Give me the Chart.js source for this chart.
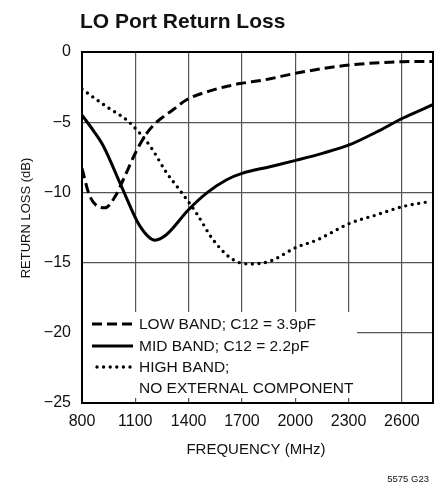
<!DOCTYPE html>
<html lang="en">
<head>
  <meta charset="UTF-8">
  <title>LO Port Return Loss</title>
  <script src="https://cdn.jsdelivr.net/npm/chart.js@4.4.1/dist/chart.umd.min.js"></script>
  <style>
    body {
      margin: 0;
      background: #fff;
      font-family: 'Liberation Sans', Arial, sans-serif;
      color: #111;
    }
    #wrap {
      position: relative;
      width: 436px;
      height: 485px;
    }
    #title {
      position: absolute;
      left: 80px;
      top: 10px;
      font-size: 21px;
      line-height: 21px;
      font-weight: bold;
      white-space: nowrap;
    }
    #note {
      position: absolute;
      right: 7px;
      top: 474px;
      font-size: 9.5px;
      line-height: 10px;
      white-space: nowrap;
    }
  </style>
</head>
<body>
  <div id="wrap">
    <canvas id="rl" width="436" height="485"></canvas>
    <div id="title">LO Port Return Loss</div>
    <div id="note">5575 G23</div>
  </div>

  <script>
    // values
    const xTicks = [800, 1100, 1400, 1700, 2000, 2300, 2600];
    const yTicks = [0, -5, -10, -15, -20, -25];

    const lowFreq = [800, 845, 929, 986, 1032, 1108, 1164, 1211, 1314, 1389, 1539, 1632, 1689, 1820, 2008, 2195, 2307, 2476, 2607, 2775];
    const lowLoss = [-8.3, -10.3, -11.1, -10.3, -9.1, -7.0, -5.8, -5.1, -4.1, -3.4, -2.7, -2.4, -2.25, -2.0, -1.5, -1.1, -0.93, -0.76, -0.69, -0.68];

    const midFreq = [800, 864, 920, 1023, 1126, 1211, 1276, 1398, 1501, 1614, 1700, 1857, 2008, 2157, 2307, 2457, 2607, 2775];
    const midLoss = [-4.5, -5.6, -6.7, -9.6, -12.4, -13.4, -13.0, -11.25, -10.05, -9.1, -8.65, -8.17, -7.7, -7.2, -6.6, -5.7, -4.7, -3.75];

    const highFreq = [800, 939, 1061, 1183, 1276, 1351, 1445, 1539, 1651, 1745, 1857, 2008, 2120, 2307, 2457, 2607, 2758];
    const highLoss = [-2.65, -3.9, -4.95, -6.7, -8.6, -9.85, -11.5, -13.4, -14.8, -15.1, -14.9, -13.9, -13.4, -12.2, -11.6, -11.0, -10.65];

    const seriesNames = ['LOW BAND; C12 = 3.9pF', 'MID BAND; C12 = 2.2pF', 'HIGH BAND;\nNO EXTERNAL COMPONENT'];

    const pts = (xs, ys) => xs.map((x, i) => ({ x: x, y: ys[i] }));
    const minus = v => String(v).replace('-', '\u2212');

    // legend box, axis titles and plot frame
    const decor = {
      id: 'decor',
      afterDatasetsDraw(chart) {
        const ctx = chart.ctx;
        const a = chart.chartArea;
        const sets = chart.data.datasets;
        ctx.save();

        // white legend panel hiding the grid
        ctx.fillStyle = '#fff';
        ctx.fillRect(a.left + 1, 312, 357 - a.left - 1, 86);

        const rows = [324, 346, 367];
        ctx.font = '15.5px "Liberation Sans", Arial, sans-serif';
        ctx.fillStyle = '#111';
        ctx.textBaseline = 'middle';
        ctx.textAlign = 'left';
        sets.forEach((ds, i) => {
          const y = rows[i];
          ctx.strokeStyle = '#000';
          ctx.lineWidth = ds.borderWidth;
          ctx.lineCap = ds.borderCapStyle || 'butt';
          ctx.setLineDash(ds.borderDash || []);
          ctx.beginPath();
          if (i === 2) {
            ctx.moveTo(97, y);
            ctx.lineTo(131, y);
          } else {
            ctx.moveTo(92, y);
            ctx.lineTo(133, y);
          }
          ctx.stroke();
          ds.label.split('\n').forEach((t, k) => {
            ctx.fillText(t, 139, y + 1 + k * 21);
          });
        });
        ctx.setLineDash([]);
        ctx.lineCap = 'butt';

        // axis titles
        ctx.textAlign = 'center';
        ctx.font = '15px "Liberation Sans", Arial, sans-serif';
        ctx.fillText('FREQUENCY (MHz)', 256, 450);
        ctx.save();
        ctx.translate(26, 218);
        ctx.rotate(-Math.PI / 2);
        ctx.font = '13px "Liberation Sans", Arial, sans-serif';
        ctx.fillText('RETURN LOSS (dB)', 0, 0);
        ctx.restore();

        // frame
        ctx.strokeStyle = '#000';
        ctx.lineWidth = 2;
        ctx.strokeRect(a.left, a.top, a.right - a.left, a.bottom - a.top);
        ctx.restore();
      }
    };

    const gridStyle = { color: '#555', lineWidth: 1.2, drawTicks: false };
    const tickFont = { family: "'Liberation Sans', Arial, sans-serif", size: 16 };

    new Chart(document.getElementById('rl'), {
      type: 'line',
      data: {
        datasets: [{
          label: seriesNames[0],
          data: pts(lowFreq, lowLoss),
          borderColor: '#000',
          borderWidth: 3,
          borderDash: [10, 5],
          pointRadius: 0,
          fill: false,
          cubicInterpolationMode: 'monotone'
        }, {
          label: seriesNames[1],
          data: pts(midFreq, midLoss),
          borderColor: '#000',
          borderWidth: 3,
          pointRadius: 0,
          fill: false,
          cubicInterpolationMode: 'monotone'
        }, {
          label: seriesNames[2],
          data: pts(highFreq, highLoss),
          borderColor: '#000',
          borderWidth: 3.4,
          borderDash: [0, 6.6],
          borderCapStyle: 'round',
          pointRadius: 0,
          fill: false,
          cubicInterpolationMode: 'monotone'
        }]
      },
      options: {
        responsive: false,
        animation: false,
        layout: { padding: { top: 52, right: 3, left: 0, bottom: 0 } },
        scales: {
          x: {
            type: 'linear',
            min: 800,
            max: 2775,
            border: { display: false },
            grid: gridStyle,
            afterBuildTicks: s => { s.ticks = xTicks.map(v => ({ value: v })); },
            afterFit: s => { s.height = 82; },
            ticks: { padding: 9, color: '#111', font: tickFont, maxRotation: 0, callback: v => v }
          },
          y: {
            min: -25,
            max: 0,
            border: { display: false },
            grid: gridStyle,
            afterBuildTicks: s => { s.ticks = yTicks.map(v => ({ value: v })); },
            afterFit: s => { s.width = 82; },
            ticks: { padding: 11, color: '#111', font: tickFont, callback: v => minus(v) }
          }
        },
        plugins: {
          legend: { display: false },
          tooltip: { enabled: false }
        }
      },
      plugins: [decor]
    });
  </script>
</body>
</html>
